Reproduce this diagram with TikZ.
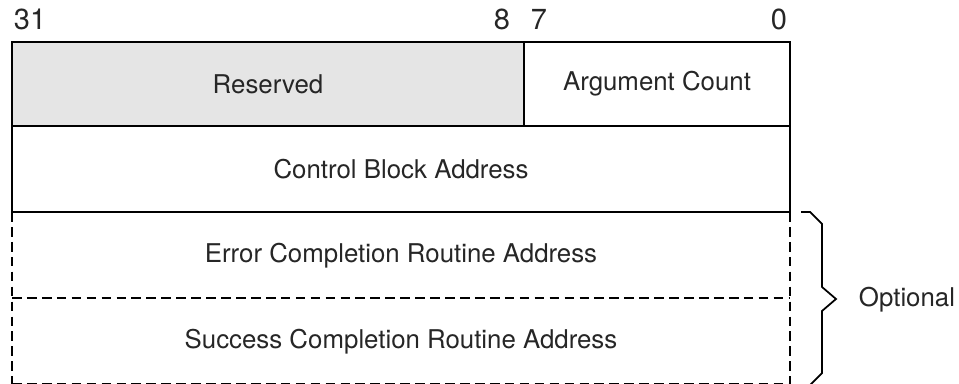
\documentclass[tikz,border=0pt]{standalone}
\usepackage{fontspec}
\setsansfont{TeX Gyre Heros}
\usetikzlibrary{positioning}

\begin{document}
\begin{tikzpicture}[x=0.02cm, y=-0.02cm, line width=1.1pt,
    field/.style={font=\sffamily\fontsize{14.7}{17}\selectfont, text=black!85},
    bitno/.style={font=\sffamily\fontsize{16.5}{19}\selectfont, text=black!85},
    opt/.style={dash pattern=on 5.5pt off 3pt}]

\useasboundingbox (0,0) rectangle (959,384);
\clip (0,0) rectangle (959,384);

% corners of the argument list
\coordinate (tl) at (12,42);
\coordinate (split) at (524,42);
\coordinate (tr) at (790,42);
\coordinate (rowa) at (12,126);
\coordinate (rowb) at (12,212);
\coordinate (rowc) at (12,298);
\coordinate (rowd) at (12,384);

% longword 0 and 1
\fill[black!10] (tl) rectangle (524,126);
\draw (tl) rectangle (790,212);
\draw (rowa) -- (790,126);
\draw (split) -- (524,126);

% optional longwords
\draw[opt] (rowb) -- (rowd);
\draw[opt] (790,212) -- (790,384);
\draw[opt] (rowc) -- (790,298);
\draw[opt] (rowd) -- (790,384);

% bit numbers
\node[bitno, anchor=west, inner sep=0pt] (b31) at (13,19) {31};
\node[bitno] (b8) at (502,19) {8};
\node[bitno] (b7) at (539,19) {7};
\node[bitno] (b0) at (779,19) {0};

% field names
\node[field] (resv) at (268,84) {Reserved};
\node[field] (argc) at (657,84) {Argument Count};
\node[field] (ctlblk) at (401,169) {Control Block Address};
\node[field] (errast) at (401,256) {Error Completion Routine Address};
\node[field] (sucast) at (401,342) {Success Completion Routine Address};

% brace
\coordinate (tip) at (836,299);
\draw[line width=1pt] (801,212) -- (810,212) -- (822,224) -- (822,287) -- (tip)
  -- (822,311) -- (822,373) -- (810,385) -- (801,385);
\node[field, anchor=west, inner sep=0pt] (optl) at (858,300) {Optional};

\end{tikzpicture}
\end{document}
